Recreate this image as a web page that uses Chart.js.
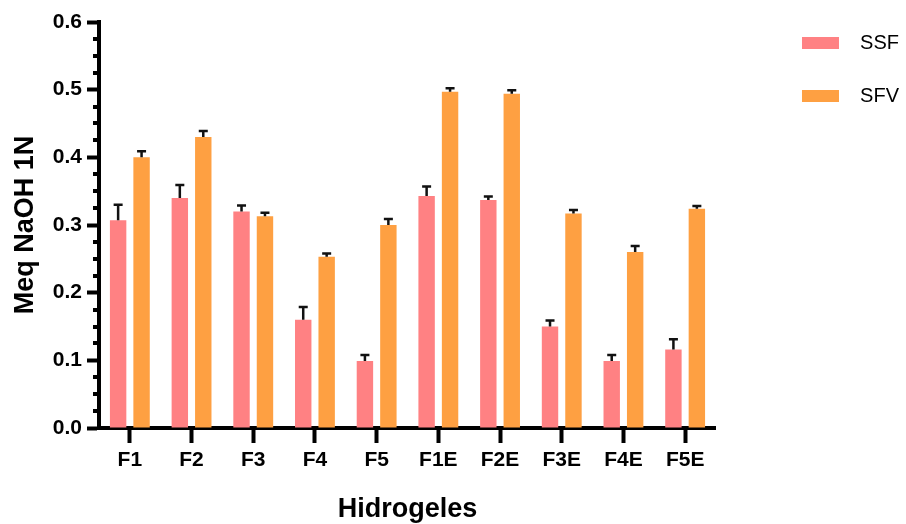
<!DOCTYPE html>
<html lang="es">
<head>
  <meta charset="UTF-8" />
  <title>Hidrogeles - Meq NaOH 1N</title>
  <script src="https://cdn.jsdelivr.net/npm/chart.js"></script>
  <style>
    body {
      margin: 0;
      padding: 0;
      background: #fff;
      overflow: hidden;
    }
    canvas {
      display: block;
    }
  </style>
</head>
<body>
  <canvas id="barChart" width="906" height="524"></canvas>

  <script>
    const categories = ['F1', 'F2', 'F3', 'F4', 'F5', 'F1E', 'F2E', 'F3E', 'F4E', 'F5E'];
    const ssfValues = [0.307, 0.340, 0.320, 0.160, 0.099, 0.343, 0.337, 0.150, 0.099, 0.116];
    const ssfErrors = [0.023, 0.019, 0.009, 0.019, 0.009, 0.014, 0.005, 0.009, 0.009, 0.015];
    const sfvValues = [0.400, 0.430, 0.313, 0.253, 0.300, 0.497, 0.494, 0.317, 0.260, 0.324];
    const sfvErrors = [0.009, 0.009, 0.005, 0.005, 0.009, 0.005, 0.005, 0.005, 0.009, 0.004];
    const yTicks = [0, 0.1, 0.2, 0.3, 0.4, 0.5, 0.6];

    const fontFamily = "'Liberation Sans', Arial, sans-serif";

    // upper error bars, drawn on top of each bar
    const errorBars = {
      id: 'errorBars',
      afterDatasetsDraw(chart) {
        const ctx = chart.ctx;
        const y = chart.scales.y;
        ctx.save();
        ctx.strokeStyle = '#111';
        ctx.lineWidth = 2.5;
        chart.data.datasets.forEach((ds, i) => {
          const meta = chart.getDatasetMeta(i);
          meta.data.forEach((bar, j) => {
            const top = y.getPixelForValue(ds.data[j] + ds.errors[j]);
            ctx.beginPath();
            ctx.moveTo(bar.x, bar.y);
            ctx.lineTo(bar.x, top);
            ctx.moveTo(bar.x - 4.5, top);
            ctx.lineTo(bar.x + 4.5, top);
            ctx.stroke();
          });
        });
        ctx.restore();
      }
    };

    // small ticks between the labelled ones on the y axis
    const minorTicks = {
      id: 'minorTicks',
      afterDraw(chart) {
        const ctx = chart.ctx;
        const y = chart.scales.y;
        ctx.save();
        ctx.strokeStyle = '#000';
        ctx.lineWidth = 4;
        for (let v = 0.025; v < 0.6; v += 0.025) {
          if (Math.abs(v * 10 - Math.round(v * 10)) < 1e-6) continue;
          const py = Math.round(y.getPixelForValue(v));
          ctx.beginPath();
          ctx.moveTo(y.right - 6, py);
          ctx.lineTo(y.right, py);
          ctx.stroke();
        }
        ctx.restore();
      }
    };

    const ctx = document.getElementById('barChart').getContext('2d');
    const chart = new Chart(ctx, {
      type: 'bar',
      data: {
        labels: categories,
        datasets: [
          {
            label: 'SSF',
            data: ssfValues,
            errors: ssfErrors,
            backgroundColor: '#FF8183',
            borderWidth: 0
          },
          {
            label: 'SFV',
            data: sfvValues,
            errors: sfvErrors,
            backgroundColor: '#FEA042',
            borderWidth: 0
          }
        ]
      },
      options: {
        responsive: false,
        animation: false,
        categoryPercentage: 0.76,
        barPercentage: 0.7,
        layout: {
          padding: { left: 0, right: -3, top: 0, bottom: 0 }
        },
        plugins: {
          legend: {
            position: 'right',
            align: 'start',
            labels: {
              boxWidth: 37,
              boxHeight: 12,
              padding: 33,
              color: '#000',
              font: { family: fontFamily, size: 20 },
              generateLabels: c => Chart.defaults.plugins.legend.labels.generateLabels(c)
                .map(item => ({ ...item, text: '  ' + item.text }))
            }
          },
          tooltip: { enabled: false }
        },
        scales: {
          x: {
            position: 'bottom',
            grid: {
              display: true,
              drawOnChartArea: false,
              offset: false,
              tickLength: 15,
              tickWidth: 4,
              tickColor: '#000'
            },
            border: { display: true, color: '#000', width: 4 },
            ticks: {
              color: '#000',
              padding: 5,
              font: { family: fontFamily, size: 21, weight: 'bold' }
            },
            title: {
              display: true,
              text: 'Hidrogeles',
              color: '#000',
              padding: { top: 0, bottom: -2 },
              font: { family: fontFamily, size: 27, weight: 'bold' }
            },
            afterFit: s => { s.height = 96; }
          },
          y: {
            min: 0,
            max: 0.6,
            afterBuildTicks: s => { s.ticks = yTicks.map(v => ({ value: v })); },
            grid: {
              display: true,
              drawOnChartArea: false,
              tickLength: 12,
              tickWidth: 4,
              tickColor: '#000'
            },
            border: { display: true, color: '#000', width: 4 },
            ticks: {
              color: '#000',
              padding: 5,
              callback: v => v.toFixed(1),
              font: { family: fontFamily, size: 21, weight: 'bold' }
            },
            title: {
              display: true,
              text: 'Meq NaOH 1N',
              color: '#000',
              padding: { top: 9, bottom: 0 },
              font: { family: fontFamily, size: 27, weight: 'bold' }
            },
            afterFit: s => { s.width = 99; }
          },
          // blank spacers above and to the right of the plot
          xTop: {
            type: 'linear',
            position: 'top',
            grid: { display: false },
            border: { display: false },
            ticks: { display: false },
            afterFit: s => { s.height = 22; }
          },
          yRight: {
            type: 'linear',
            position: 'right',
            grid: { display: false },
            border: { display: false },
            ticks: { display: false },
            afterFit: s => { s.width = 53; }
          }
        }
      },
      plugins: [errorBars, minorTicks]
    });
  </script>
</body>
</html>
